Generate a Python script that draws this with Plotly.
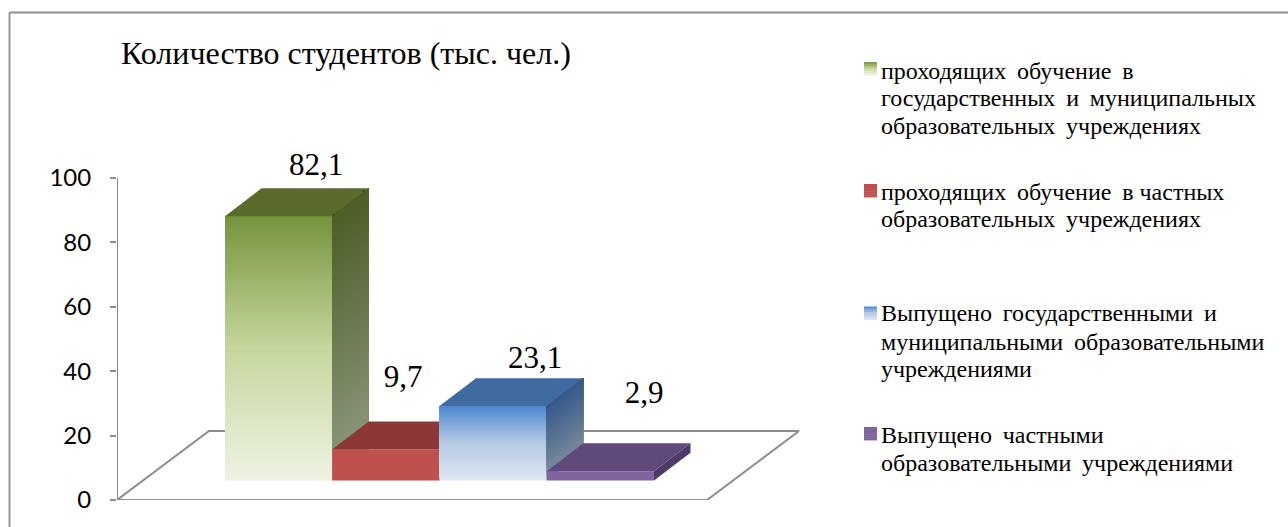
import numpy as np
import plotly.graph_objects as go

# ---- data ----
category_lines = [
    ["проходящих обучение в", "государственных и муниципальных", "образовательных учреждениях"],
    ["проходящих обучение в\u00a0частных", "образовательных учреждениях"],
    ["Выпущено государственными и", "муниципальными образовательными", "учреждениями"],
    ["Выпущено частными", "образовательными учреждениями"],
]
values = [82.1, 9.7, 23.1, 2.9]
value_labels = ["82,1", "9,7", "23,1", "2,9"]
y_ticks = [0, 20, 40, 60, 80, 100]
title_text = "Количество студентов (тыс. чел.)"

# ---- styles ----
W, H = 1288, 527
AX_L, AX_R, AX_T, AX_B = 117, 800, 178, 500
PX_Y = (AX_B - AX_T) / 100.0
Y_MAX = 110
CAT_W = 107.25
X0 = 225.0                        # pixel of the first bar's left edge
xr = [(AX_L - X0) / CAT_W, (AX_R - X0) / CAT_W]
DX, DY = 36.5 / CAT_W, 27.8 / PX_Y  # depth offset of a bar
BASE = 19.5 / PX_Y                  # bars' front edge above the axis zero
FLOOR_DX, FLOOR_DY = 92 / CAT_W, 69 / PX_Y
GRAY = "#8c8c8c"
SERIF = "Liberation Serif"

front_stops = [
    [(0, "#eef3e3"), (0.5, "#c5d79c"), (1, "#76933c")],
    [(0, "#c0504d"), (1, "#c0504d")],
    [(0, "#dde7f3"), (0.5, "#b4c9e3"), (1, "#4a86cf")],
    [(0, "#8064a2"), (1, "#8064a2")],
]
side_stops = [
    [(0, "#8f9a82"), (1, "#4c5f26")],
    [(0, "#7c3330"), (1, "#7c3330")],
    [(0, "#7f8e9c"), (1, "#34598a")],
    [(0, "#4f3b69"), (1, "#4f3b69")],
]
top_colors = ["#5a6b2d", "#8c3836", "#3f6ba0", "#604a7b"]
label_centres_px = [(316, 167), (403, 379), (535, 360), (644, 395)]


def hex2rgb(c):
    return np.array([int(c[i:i + 2], 16) for i in (1, 3, 5)], float)


def grad(stops, t):
    for (t0, c0), (t1, c1) in zip(stops[:-1], stops[1:]):
        if t <= t1:
            f = (t - t0) / (t1 - t0)
            c = hex2rgb(c0) * (1 - f) + hex2rgb(c1) * f
            return "rgb(%d,%d,%d)" % tuple(c)
    return stops[-1][1]


def poly(xs, ys, color):
    return go.Scatter(x=list(xs) + [xs[0]], y=list(ys) + [ys[0]], mode="lines", fill="toself",
                      fillcolor=color, line=dict(width=0, color=color), hoverinfo="skip",
                      showlegend=False, cliponaxis=False)


fig = go.Figure()

# floor outline and value axis line, through the library's axes
fx0 = (AX_L - X0) / CAT_W
fx1 = (707 - X0) / CAT_W
fig.add_trace(go.Scatter(
    x=[fx0, fx1, fx1 + FLOOR_DX, fx0 + FLOOR_DX, fx0],
    y=[0, 0, FLOOR_DY, FLOOR_DY, 0], mode="lines",
    line=dict(color=GRAY, width=2), hoverinfo="skip", showlegend=False, cliponaxis=False))
fig.add_trace(go.Scatter(x=[fx0, fx0], y=[y_ticks[0], y_ticks[-1]], mode="lines",
                         line=dict(color=GRAY, width=2), hoverinfo="skip", showlegend=False, cliponaxis=False))

# bars, painter's order left to right
for i, v in enumerate(values):
    b, t = BASE, BASE + v
    n = max(2, int(v * PX_Y / 2))
    if front_stops[i][0][1] == front_stops[i][-1][1]:
        n = 1
    for k in range(n):
        f = k / n
        y0 = b + (t - b) * f
        fig.add_trace(poly([i, i + 1, i + 1, i], [y0, y0, t, t], grad(front_stops[i], f)))
    fig.add_trace(poly([i, i + 1, i + 1 + DX, i + DX], [t, t, t + DY, t + DY], top_colors[i]))
    for k in range(n):
        f = k / n
        y0 = b + (t - b) * f
        fig.add_trace(poly([i + 1, i + 1 + DX, i + 1 + DX, i + 1],
                           [y0, y0 + DY, t + DY, t], grad(side_stops[i], f)))

# value labels
fig.add_trace(go.Scatter(
    x=[(p[0] - X0) / CAT_W for p in label_centres_px],
    y=[(AX_B - p[1]) / PX_Y for p in label_centres_px],
    mode="text", text=value_labels, textposition="middle center",
    textfont=dict(family=SERIF, size=31, color="black"),
    hoverinfo="skip", showlegend=False, cliponaxis=False))

shapes = []


def px(x):
    return x / W


def py(y):
    return 1 - y / H


# frame
for x0, y0, x1, y1 in [(9.5, 12.5, 1288, 12.5), (9.5, 12.5, 9.5, 527)]:
    shapes.append(dict(type="line", xref="paper", yref="paper", x0=px(x0), y0=py(y0), x1=px(x1), y1=py(y1),
                       line=dict(color=GRAY, width=1.8)))

# legend swatches
swatch_y = [62, 184, 306.5, 427]
for s, top in enumerate(swatch_y):
    stops = front_stops[s]
    m = 7
    for k in range(m):
        f = 1 - (k + 0.5) / m
        shapes.append(dict(type="rect", xref="paper", yref="paper", x0=px(864), x1=px(877),
                           y0=py(top + 13 * k / m), y1=py(top + 13 * (k + 1) / m + 0.4),
                           fillcolor=grad(stops, f), line=dict(width=0)))

legend_line_y = [[70.5, 98.3, 125.8], [191.7, 219], [313, 341.7, 369], [434.7, 463]]
annotations = []
for lines, ys in zip(category_lines, legend_line_y):
    for line, ly in zip(lines, ys):
        annotations.append(dict(text=line.replace(" ", " \u2009"), x=px(879), y=py(ly), xref="paper", yref="paper",
                                xanchor="left", yanchor="middle", align="left", showarrow=False,
                                font=dict(family=SERIF, size=24, color="black")))
annotations.append(dict(text=title_text, x=px(119), y=py(53), xref="paper", yref="paper", xanchor="left",
                        yanchor="middle", showarrow=False, font=dict(family=SERIF, size=32, color="black")))

fig.update_layout(
    template="none",
    width=W, height=H, margin=dict(l=0, r=0, t=0, b=0, autoexpand=False), paper_bgcolor="white", plot_bgcolor="white",
    showlegend=False, shapes=shapes, annotations=annotations,
    xaxis=dict(domain=[AX_L / W, AX_R / W], range=xr, visible=False, fixedrange=True, automargin=False),
    yaxis=dict(domain=[1 - AX_B / H, 1 - (AX_B - Y_MAX * PX_Y) / H], range=[0, Y_MAX], tickvals=y_ticks,
               showgrid=False, zeroline=False, showline=False, ticks="outside", ticklen=6, tickcolor=GRAY,
               tickwidth=2, ticklabelstandoff=14, tickfont=dict(family="Lato", size=24, color="black"),
               fixedrange=True, automargin=False),
)
fig.write_html("out.html", config={"displayModeBar": False},
               post_script="document.body.style.margin='0';document.documentElement.style.overflow='hidden';")
